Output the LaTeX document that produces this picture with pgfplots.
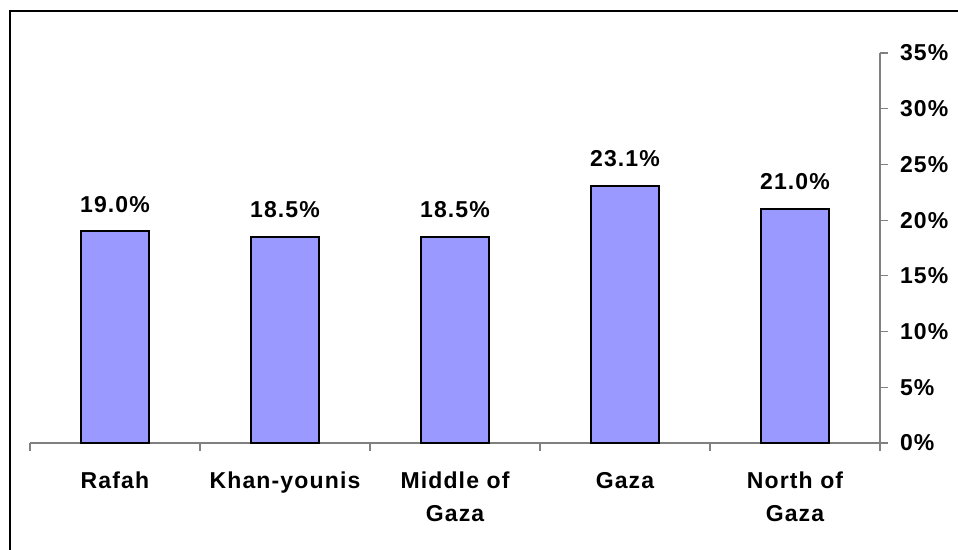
\documentclass[border=0pt]{standalone}
\usepackage{fontspec}
\setmainfont{Liberation Sans}[LetterSpace=5]
\usepackage{pgfplots}
\pgfplotsset{compat=1.18}
\definecolor{barfill}{HTML}{9999FF}
\definecolor{axgray}{HTML}{808080}
\begin{document}
\begin{tikzpicture}
\useasboundingbox (0pt,0pt) rectangle (479pt,275pt);
\draw[line width=1pt] (5pt,0pt) -- (5pt,269.5pt) -- (479pt,269.5pt);
\begin{axis}[
  at={(15pt,53.5pt)}, anchor=south west,
  scale only axis, width=425pt, height=195pt,
  xmin=-0.5, xmax=4.5, ymin=0, ymax=35,
  axis x line*=bottom, axis y line*=right,
  axis line style={draw=axgray, line width=0.6pt},
  tick align=outside,
  major tick length=4pt, minor tick length=4pt,
  xtick={0,1,2,3,4},
  xticklabels={Rafah,Khan-younis,{Middle of\\Gaza},Gaza,{North of\\Gaza}},
  major x tick style={draw=none},
  minor xtick={-0.5,0.5,1.5,2.5,3.5,4.5},
  minor x tick style={draw=axgray, line width=0.6pt},
  ytick={0,5,...,35},
  y tick style={draw=axgray, line width=0.6pt},
  yticklabel={\pgfmathprintnumber{\tick}\%},
  /pgf/number format/assume math mode=true,
  tick label style={font=\bfseries\fontsize{11.5}{16.5}\selectfont},
  xticklabel style={align=center, yshift=-7pt},
  yticklabel style={xshift=2.5pt},
  ybar, bar width=34pt,
  nodes near coords={\pgfmathprintnumber[fixed,fixed zerofill,precision=1]{\pgfplotspointmeta}\%},
  nodes near coords style={anchor=base, inner sep=0pt, yshift=9.5pt, font=\bfseries\fontsize{11.5}{14}\selectfont},
  clip=false,
]
\addplot[fill=barfill, draw=black, line width=1pt] coordinates {(0,19.0) (1,18.5) (2,18.5) (3,23.1) (4,21.0)};
\end{axis}
\end{tikzpicture}
\end{document}
